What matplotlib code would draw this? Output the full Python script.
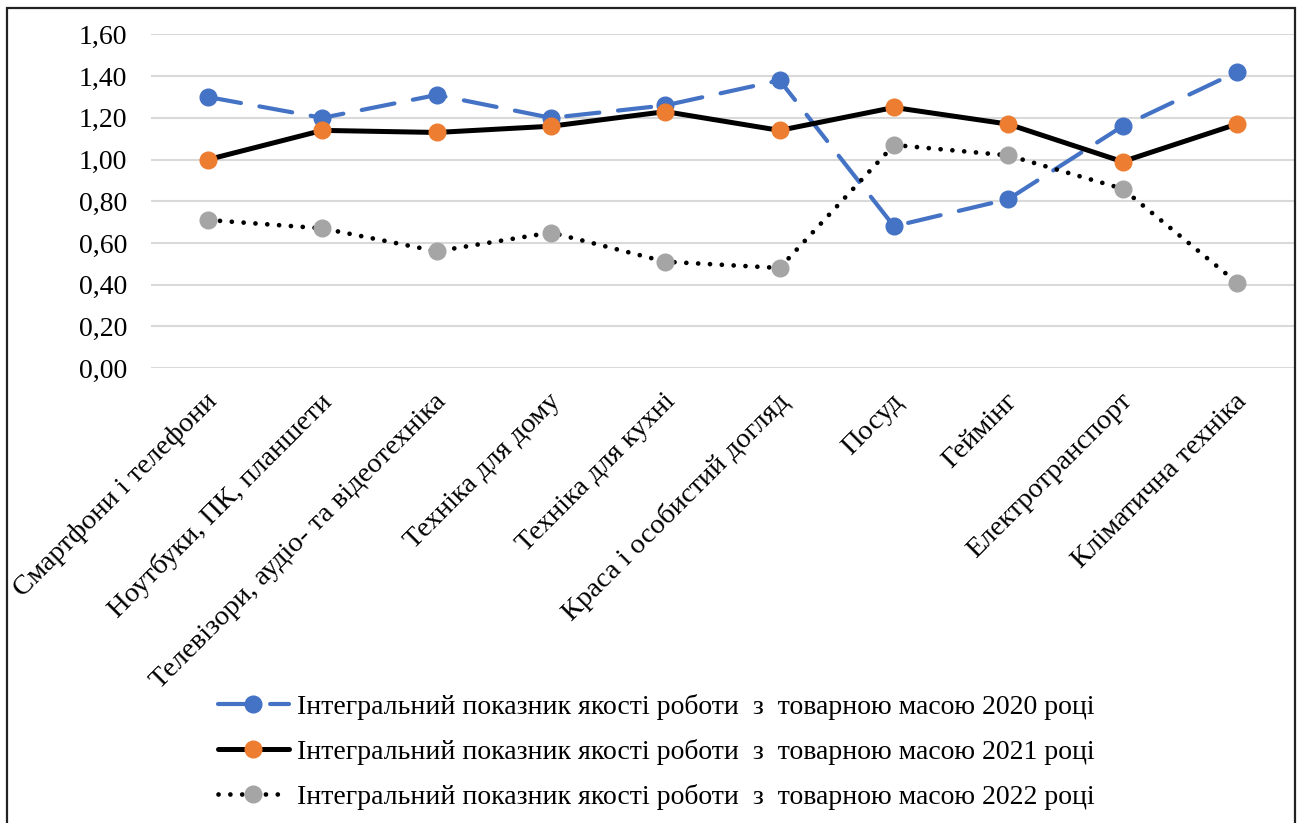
import matplotlib
matplotlib.use("Agg")
import matplotlib.pyplot as plt
from matplotlib.patches import Rectangle
from matplotlib.ticker import FixedLocator, FuncFormatter
from matplotlib.transforms import ScaledTranslation

categories = [
    "Смартфони і телефони",
    "Ноутбуки, ПК, планшети",
    "Телевізори, аудіо- та відеотехніка",
    "Техніка для дому",
    "Техніка для кухні",
    "Краса і особистий догляд",
    "Посуд",
    "Геймінг",
    "Електротранспорт",
    "Кліматична техніка",
]

values_2020 = [1.30, 1.20, 1.31, 1.20, 1.26, 1.38, 0.68, 0.81, 1.16, 1.42]
values_2021 = [1.00, 1.14, 1.13, 1.16, 1.23, 1.14, 1.25, 1.17, 0.99, 1.17]
values_2022 = [0.71, 0.67, 0.56, 0.65, 0.51, 0.48, 1.07, 1.02, 0.86, 0.41]

labels = [
    "Інтегральний показник якості роботи  з  товарною масою 2020 році",
    "Інтегральний показник якості роботи  з  товарною масою 2021 році",
    "Інтегральний показник якості роботи  з  товарною масою 2022 році",
]

y_ticks = [0.0, 0.2, 0.4, 0.6, 0.8, 1.0, 1.2, 1.4, 1.6]

BLUE = "#4472C4"
ORANGE = "#ED7D31"
GREY = "#A5A5A5"

plt.rcParams["font.family"] = ["Liberation Serif", "DejaVu Serif"]

W, H = 1301, 823
fig = plt.figure(figsize=(W / 100, H / 100), dpi=100)
ax = fig.add_axes([151 / W, 1 - 368 / H, (1294 - 151) / W, (368 - 34.5) / H])

x = list(range(len(categories)))

l1, = ax.plot(x, values_2020, color=BLUE, lw=3.0, dashes=(8, 4.5),
              dash_capstyle="round", marker="o", ms=12,
              markerfacecolor=BLUE, markeredgecolor=BLUE, zorder=3)
l2, = ax.plot(x, values_2021, color="black", lw=3.6, solid_capstyle="round",
              marker="o", ms=12, markerfacecolor=ORANGE,
              markeredgecolor=ORANGE, zorder=4)
l3, = ax.plot(x, values_2022, color="black", lw=3.4, dashes=(0.01, 2.5),
              dash_capstyle="round", marker="o", ms=12,
              markerfacecolor=GREY, markeredgecolor=GREY, zorder=5)

ax.set_xlim(-0.5, len(categories) - 0.5)
ax.set_ylim(0, 1.6)
ax.yaxis.set_major_locator(FixedLocator(y_ticks))
ax.yaxis.set_major_formatter(FuncFormatter(lambda v, _: f"{v:.2f}".replace(".", ",")))
ax.grid(axis="y", color="#D9D9D9", lw=1.5, zorder=0)
ax.set_axisbelow(True)
for s in ax.spines.values():
    s.set_visible(False)
ax.tick_params(axis="both", length=0, labelsize=20)
ax.tick_params(axis="y", pad=17)

ax.set_xticks(x)
ax.set_xticklabels(categories, rotation=45, ha="right", va="top",
                   rotation_mode="anchor", fontsize=20.5)
ax.tick_params(axis="x", pad=15)
shift = ScaledTranslation(-3 / 100, 0, fig.dpi_scale_trans)
for lab in ax.get_xticklabels():
    lab.set_transform(lab.get_transform() + shift)

leg = fig.legend([l1, l2, l3], labels, loc="upper left",
                 bbox_to_anchor=(218 / W, 1 - 694 / H), frameon=False,
                 fontsize=20, handlelength=2.55, handletextpad=0.3,
                 labelspacing=0.68, borderpad=0, borderaxespad=0)

# outer frame around the chart
fig.add_artist(Rectangle((7 / W, -0.05), (1295 - 7) / W, 1.05 - 8 / H,
                         transform=fig.transFigure, fill=False,
                         edgecolor="#222222", lw=1.6, clip_on=False))

fig.savefig("out.png", dpi=100)
